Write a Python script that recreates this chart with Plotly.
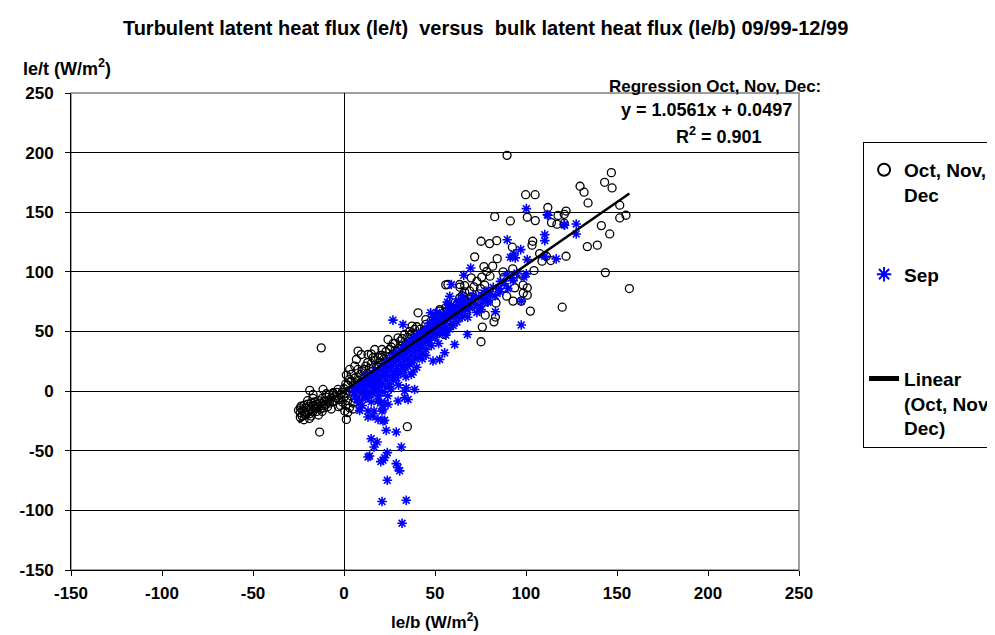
import plotly.graph_objects as go

# ---------------- data ----------------
# Oct, Nov, Dec : (le/b, le/t) pairs
ond_upper = [
    (89.6, 197.7), (99.8, 164.7), (105.0, 164.7), (146.9, 183.2), (143.2, 175.1),
    (147.3, 170.4), (129.7, 171.8), (131.9, 166.8), (134.1, 157.8), (112.0, 154.0),
    (122.0, 151.0), (117.6, 147.3), (121.0, 148.3), (114.0, 141.3), (117.0, 140.0),
    (121.0, 140.8), (82.8, 146.3), (91.4, 142.7), (100.7, 145.8), (105.1, 143.0),
    (141.4, 138.8), (146.0, 131.8), (151.5, 155.9), (151.5, 145.2), (154.9, 147.5),
    (75.3, 125.7), (80.0, 123.7), (83.9, 126.2), (103.7, 125.7), (103.3, 122.4),
    (71.8, 112.6), (84.2, 111.1), (92.5, 120.7), (107.5, 115.3), (108.8, 109.0),
    (113.6, 109.5), (111.2, 113.1), (122.0, 113.1), (133.7, 121.2), (139.2, 122.4),
    (143.6, 99.4), (156.8, 86.0), (119.9, 70.4), (102.4, 67.1),
]
ond_middle = [
    (76.9, 104.4), (81.7, 104.8), (78.4, 100.3), (75.7, 95.6), (80.2, 96.4),
    (87.4, 100.0), (92.7, 102.5), (87.9, 95.6), (93.0, 95.0), (97.9, 97.2),
    (104.4, 101.1), (69.9, 95.0), (66.3, 88.5), (63.6, 89.4), (55.9, 89.1),
    (71.4, 87.4), (77.3, 88.9), (74.2, 81.6), (79.1, 81.0), (83.5, 83.5),
    (88.3, 86.6), (93.8, 86.6), (98.4, 88.9), (100.7, 86.6), (98.5, 82.2),
    (100.7, 80.5), (97.4, 75.5), (92.9, 75.5), (89.4, 79.6), (74.0, 76.0),
    (78.2, 74.9), (73.6, 68.4), (77.6, 63.7), (83.5, 74.0), (82.4, 58.1),
    (83.2, 62.1), (76.0, 53.7), (75.3, 41.4), (63.6, 78.2), (62.3, 73.2),
    (66.3, 83.2), (63.7, 87.2), (57.1, 89.4), (52.7, 67.1), (40.7, 65.7),
    (37.4, 54.5), (36.6, 47.5), (60.8, 60.0), (56.8, 53.7), (55.0, 47.5),
]
ond_lower = [
    (-12.5, 36.3), (24.2, 43.3), (29.7, 44.7), (33.3, 47.5), (38.8, 51.7),
    (52.6, 68.4), (7.7, 33.6), (9.5, 30.7), (13.2, 30.7), (15.9, 28.0),
    (20.9, 34.9), (16.9, 34.9), (6.8, 26.5), (5.9, 21.0), (3.1, 18.2),
    (1.3, 13.5), (7.7, 18.2), (-18.8, 0.6), (-17.0, -2.8), (-11.5, 1.4),
    (-9.7, -2.2), (-6.0, -1.3), (-3.3, 1.4), (-4.2, -5.5), (-23.5, -12.5),
    (-21.6, -19.5), (-18.0, -20.9), (-15.2, -13.9), (-10.6, -8.3), (0.4, -16.7),
    (1.3, -23.7), (34.8, -29.8), (-13.4, -34.3),
]
ond_cluster = [
    (-24, -14), (-24, -18), (-23, -16), (-23, -21), (-22, -12), (-22, -17), (-21, -14),
    (-21, -20), (-20, -11), (-20, -16), (-19, -13), (-19, -19), (-18, -10), (-18, -15),
    (-17, -12), (-17, -17), (-16, -9), (-16, -14), (-15, -11), (-15, -17), (-14, -8),
    (-14, -13), (-13, -10), (-13, -15), (-12, -6), (-12, -12), (-11, -9), (-11, -14),
    (-10, -5), (-10, -11), (-9, -8), (-8, -3), (-8, -10), (-7, -6), (-6, -2), (-6, -9),
    (-5, -4), (-4, -1), (-3, -7), (-2, -3), (-2, -12), (-1, -9), (0, -5), (0, 2),
    (1, -12), (1, -2), (2, 5), (2, -8), (3, 0), (3, -14), (4, 8), (4, -4), (5, 2),
    (5, -10), (6, 11), (6, -6), (7, 5), (7, -2), (8, 9), (9, 14), (9, 3), (10, 7),
    (10, 17), (11, 12), (12, 9), (12, 21), (13, 15), (14, 19), (14, 11), (15, 23),
    (16, 17), (17, 26), (18, 21), (18, 14), (19, 28), (20, 24), (21, 30), (22, 19),
    (22, 27), (23, 33), (24, 25), (25, 29), (26, 37), (27, 31), (28, 34), (28, 40),
    (30, 36), (31, 42), (32, 38), (34, 40), (35, 45), (37, 42), (39, 48), (41, 46),
    (42, 52), (44, 50), (45, 56), (47, 53), (48, 59), (50, 57), (51, 63), (53, 60),
    (55, 66), (57, 63), (58, 70), (60, 67), (62, 72), (64, 69), (66, 76), (68, 74),
    (70, 79), (72, 77),
]
ond_extra = [
    (-25, -16), (-24, -22), (-22, -24), (-20, -8), (-19, -23), (-17, -6), (-14, -20),
    (-12, -17), (-9, -13), (-7, -15), (-5, -8), (-3, -13), (-1, -1), (1, 6), (2, -18),
    (3, 10), (4, 14), (5, -15), (6, 7), (8, 1), (9, -4), (11, 18), (13, 24), (15, 31),
    (17, 15), (19, 20), (20, 30), (23, 24), (25, 35), (27, 40), (29, 33), (32, 44),
    (34, 36), (36, 50), (38, 40), (40, 54), (43, 48), (45, 60), (46, 46), (49, 55),
    (52, 64), (54, 52), (56, 70), (59, 58), (61, 74), (63, 62), (65, 80), (67, 66),
    (69, 84), (71, 72), (73, 92), (75, 86),
]

# Sep : (le/b, le/t) pairs
sep_upper = [
    (100.2, 153.0), (111.7, 148.0), (110.3, 131.2), (110.3, 126.2), (120.9, 139.6),
    (127.6, 140.2), (127.6, 131.8), (89.7, 127.0), (91.4, 112.3), (94.1, 111.7),
    (93.4, 115.1), (97.1, 118.7), (100.7, 110.3), (116.6, 110.9), (110.3, 113.1),
    (98.9, 95.6), (100.2, 98.3), (89.7, 97.7), (92.9, 92.7), (85.7, 83.0),
    (97.4, 75.5), (83.2, 66.5), (79.1, 74.6), (75.3, 68.4), (97.4, 55.4),
    (69.6, 103.3), (65.8, 97.2), (59.0, 89.4), (58.1, 79.6), (56.8, 74.6),
    (68.1, 68.4), (62.6, 69.8), (60.8, 64.2), (67.8, 47.5), (60.8, 39.1),
    (55.3, 32.2), (48.9, 25.2), (112.1, 147.5), (121.2, 139.1),
]
sep_lower = [
    (26.9, 59.5), (32.4, 55.9), (47.6, 65.7), (52.6, 26.5), (8.6, 0.0),
    (13.2, -2.8), (15.9, 2.8), (19.6, 5.6), (13.2, -16.7), (15.9, -20.9),
    (21.4, -15.3), (22.3, -9.7), (29.7, -8.3), (33.3, -5.5), (37.0, 14.0),
    (34.2, 2.8), (38.8, 1.4), (21.4, -25.0), (18.7, -23.7), (8.6, -8.3),
    (8.6, -16.2), (13.2, -21.7), (16.5, -16.7), (22.3, -24.5), (20.9, -16.7),
    (24.2, -11.1), (18.7, -8.3), (33.3, 0.0), (35.2, -7.0), (23.2, -32.9),
    (28.7, -34.3), (14.9, -39.9), (18.2, -42.6), (16.5, -46.8), (31.5, -46.8),
    (14.1, -54.4), (23.8, -51.6), (21.4, -58.0), (20.2, -59.1), (28.7, -60.8),
    (30.6, -66.9), (23.8, -74.8), (20.9, -92.6), (34.2, -91.5), (31.9, -110.8),
    (13.2, -55.2), (22.3, -55.8), (29.7, -64.2),
]
sep_band = [
    (6, -4), (7, 3), (8, -10), (9, 6), (10, -1), (10, -12), (11, 4), (11, 9), (12, -6),
    (12, 1), (13, 7), (13, 12), (14, -3), (14, 4), (15, 10), (15, -9), (16, 14), (16, 6),
    (17, 0), (17, 11), (18, 16), (18, 3), (19, 9), (19, -4), (20, 13), (20, 19), (21, 6),
    (21, -1), (22, 16), (22, 22), (23, 10), (23, 3), (24, 19), (24, 25), (25, 13), (25, 6),
    (26, 21), (26, 28), (27, 16), (27, 9), (28, 24), (28, 31), (29, 19), (29, 11), (30, 27),
    (30, 33), (31, 22), (31, 15), (32, 30), (32, 36), (33, 25), (33, 18), (34, 32), (34, 38),
    (35, 27), (35, 21), (36, 35), (36, 41), (37, 30), (37, 24), (38, 37), (38, 44), (39, 33),
    (39, 27), (40, 40), (40, 46), (41, 35), (41, 29), (42, 43), (42, 48), (43, 38), (43, 32),
    (44, 45), (44, 51), (45, 41), (45, 35), (46, 48), (46, 53), (47, 43), (48, 50), (48, 56),
    (49, 46), (50, 52), (50, 58), (51, 48), (52, 55), (52, 61), (53, 50), (54, 57), (55, 63),
    (56, 53), (57, 60), (58, 66), (60, 62), (61, 68), (62, 58), (63, 65), (64, 71), (66, 67),
    (67, 73), (69, 70), (70, 76), (72, 73), (74, 79), (76, 77), (78, 84), (80, 81), (82, 87),
    (85, 86), (88, 90), (92, 95), (95, 99),
]
sep_extra = [
    (5, 1), (7, -7), (9, -14), (11, -3), (12, 13), (14, 8), (16, -2), (17, 17), (19, 1),
    (20, -10), (21, 20), (23, 14), (24, -4), (25, 24), (26, 2), (27, 26), (28, 14), (29, 29),
    (30, 5), (31, 31), (32, 19), (33, 35), (34, 12), (35, 36), (36, 23), (37, 38), (38, 16),
    (39, 41), (40, 20), (41, 43), (42, 38), (43, 27), (44, 47), (45, 30), (46, 43), (47, 50),
    (48, 38), (49, 52), (50, 45), (51, 55), (52, 40), (53, 57), (54, 49), (55, 55), (56, 47),
    (57, 64), (58, 52), (59, 68), (60, 55), (62, 64), (63, 70), (65, 62), (66, 72), (68, 62),
    (71, 80), (73, 66), (75, 71), (77, 82), (79, 76), (83, 80), (86, 92), (90, 86),
]
sep_online = [
    (36, 40), (38, 42), (40, 45), (42, 47), (44, 49), (46, 52), (48, 54), (50, 57),
    (52, 59), (54, 61), (56, 63), (58, 65), (60, 68), (62, 70), (64, 72), (66, 74),
    (45, 50), (55, 60), (59, 72), (63, 76), (41, 48), (47, 57), (53, 64), (61, 66),
    (49, 62), (51, 66), (57, 70), (65, 80),
]

# regression (Oct, Nov, Dec)
reg_slope = 1.0561
reg_intercept = 0.0497
reg_r2 = 0.901

x_ticks = [-150, -100, -50, 0, 50, 100, 150, 200, 250]
x_tick_labels = ["-150", "-100", "-50", "0", "50", "100", "150", "200", "250"]
y_ticks = [-150, -100, -50, 0, 50, 100, 150, 200, 250]
y_tick_labels = ["-150", "-100", "-50", "0", "50", "100", "150", "200", "250"]

title_text = "Turbulent latent heat flux (le/t)  versus  bulk latent heat flux (le/b) 09/99-12/99"

# ---------------- figure ----------------
ond = ond_upper + ond_middle + ond_lower + ond_cluster + ond_extra
sep = sep_upper + sep_lower + sep_band + sep_extra + sep_online
ond_x = [p[0] for p in ond]
ond_y = [p[1] for p in ond]
sep_x = [p[0] for p in sep]
sep_y = [p[1] for p in sep]

FONT = "Liberation Sans, Arial, sans-serif"

fig = go.Figure()
fig.add_trace(go.Scatter(
    x=ond_x, y=ond_y, mode="markers", name="Oct, Nov,<br>Dec", legendgroup="a",
    marker=dict(symbol="circle-open", size=8, color="black", line=dict(width=1.3, color="black")),
))
fig.add_trace(go.Scatter(
    x=sep_x, y=sep_y, mode="markers", name="Sep<br>\u00a0", legendgroup="b",
    marker=dict(symbol="asterisk-open", size=8, color="#0000ff", line=dict(width=1.6, color="#0000ff")),
))
lx = [min(ond_x), max(ond_x)]
ly = [reg_slope * v + reg_intercept for v in lx]
fig.add_trace(go.Scatter(
    x=lx, y=ly, mode="lines", name="Linear<br>(Oct, Nov,<br>Dec)", legendgroup="c",
    line=dict(color="black", width=2.5),
))

fig.update_layout(
    width=995, height=635,
    paper_bgcolor="white", plot_bgcolor="white",
    margin=dict(l=63, r=204, t=85, b=73, autoexpand=False),
    font=dict(family=FONT, size=17, color="black", weight="bold"),
    title=dict(text="<b>" + title_text + "</b>", x=0.48, xanchor="center", y=1 - 20 / 635, yanchor="middle",
               font=dict(family=FONT, size=20, color="black")),
    showlegend=True,
    legend=dict(x=1.088, xanchor="left", y=0.897, yanchor="top", bordercolor="black", borderwidth=1,
                bgcolor="white", font=dict(family=FONT, size=19, color="black", weight="bold"),
                title=dict(text="\u00a0", font=dict(size=6)),
                tracegroupgap=52, valign="top", itemsizing="constant"),
)
fig.update_xaxes(
    range=[-150, 250], tickvals=x_ticks, ticktext=x_tick_labels, ticks="outside", ticklen=5,
    tickcolor="black", showline=True, linecolor="black", linewidth=1, mirror=False,
    showgrid=False, zeroline=True, zerolinecolor="black", zerolinewidth=1, ticklabelstandoff=3,
    tickfont=dict(family=FONT, size=17, color="black", weight="bold"),
    title=dict(text="<b>le/b (W/m<sup>2</sup>)</b>", standoff=13, font=dict(family=FONT, size=17)),
)
fig.update_yaxes(
    range=[-150, 250], tickvals=y_ticks, ticktext=y_tick_labels, ticks="outside", ticklen=5,
    tickcolor="black", showline=True, linecolor="black", linewidth=1, mirror=False,
    showgrid=True, gridcolor="black", gridwidth=1,
    zeroline=True, zerolinecolor="black", zerolinewidth=1, ticklabelstandoff=8,
    tickfont=dict(family=FONT, size=17, color="black", weight="bold"),
)
# gray plot-area border (top/right)
fig.add_shape(type="rect", xref="paper", yref="paper", x0=0, y0=0, x1=1, y1=1,
              line=dict(color="#808080", width=1.5), layer="below")

# y axis title at top left
fig.add_annotation(text="<b>le/t (W/m<sup>2</sup>)</b>", xref="paper", yref="paper",
                   x=(13 - 63) / 728, y=(562.5 - 59) / 477.5, xanchor="left", yanchor="middle",
                   showarrow=False, font=dict(family=FONT, size=18))
# regression text
fig.add_annotation(text="<b>Regression Oct, Nov, Dec:</b>", xref="paper", yref="paper",
                   x=(815 - 63) / 728, y=(562.5 - 78) / 477.5, xanchor="right", yanchor="middle",
                   showarrow=False, font=dict(family=FONT, size=17))
fig.add_annotation(text="<b>y = %.4fx + %.4f</b>" % (reg_slope, reg_intercept), xref="paper", yref="paper",
                   x=(786 - 63) / 728, y=(562.5 - 102) / 477.5, xanchor="right", yanchor="middle",
                   showarrow=False, font=dict(family=FONT, size=18))
fig.add_annotation(text="<b>R<sup>2</sup> = %.3f</b>" % reg_r2, xref="paper", yref="paper",
                   x=(756 - 63) / 728, y=(562.5 - 128) / 477.5, xanchor="right", yanchor="middle",
                   showarrow=False, font=dict(family=FONT, size=18))

fig.write_html("out.html")
